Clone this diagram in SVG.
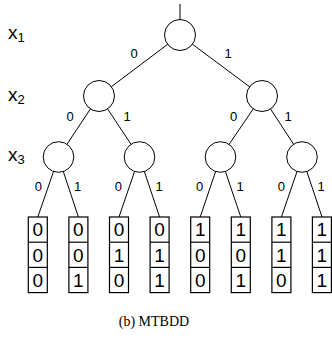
<svg xmlns="http://www.w3.org/2000/svg" width="332" height="347" viewBox="0 0 332 347">
<style>
.e{stroke:#000;stroke-width:1;fill:none}
.n{fill:#fff;stroke:#000;stroke-width:1}
.b{fill:#fff;stroke:#000;stroke-width:1.2}
.lbl{font-family:"Liberation Sans",Arial,sans-serif;font-size:13px;text-anchor:middle}
.v{font-family:"Liberation Sans",Arial,sans-serif;font-size:19px;text-anchor:middle}
.var{font-family:"Liberation Sans",Arial,sans-serif;font-size:19px}
.sub{font-size:13px}
.cap{font-family:"Liberation Serif","Times New Roman",serif;font-size:14px;text-anchor:middle}
</style>
<g id="connectors">
<line class="e" x1="180" y1="4" x2="180" y2="35"/>
<line class="e" x1="180" y1="35" x2="99" y2="96"/>
<line class="e" x1="180" y1="35" x2="262" y2="96"/>
<line class="e" x1="99" y1="96" x2="58.5" y2="157"/>
<line class="e" x1="99" y1="96" x2="139.5" y2="157"/>
<line class="e" x1="262" y1="96" x2="220.5" y2="157"/>
<line class="e" x1="262" y1="96" x2="302" y2="157"/>
<line class="e" x1="58.5" y1="157" x2="37.8" y2="217"/>
<line class="e" x1="58.5" y1="157" x2="78.4" y2="217"/>
<line class="e" x1="139.5" y1="157" x2="119" y2="217"/>
<line class="e" x1="139.5" y1="157" x2="159.6" y2="217"/>
<line class="e" x1="220.5" y1="157" x2="200.2" y2="217"/>
<line class="e" x1="220.5" y1="157" x2="240.8" y2="217"/>
<line class="e" x1="302" y1="157" x2="281.4" y2="217"/>
<line class="e" x1="302" y1="157" x2="322" y2="217"/>
<text class="lbl" x="134" y="58">0</text>
<text class="lbl" x="228" y="58">1</text>
<text class="lbl" x="70" y="120.7">0</text>
<text class="lbl" x="127" y="120.7">1</text>
<text class="lbl" x="233.5" y="120.7">0</text>
<text class="lbl" x="288" y="120.7">1</text>
<text class="lbl" x="38.3" y="191.4">0</text>
<text class="lbl" x="77.5" y="191.4">1</text>
<text class="lbl" x="118.3" y="191.4">0</text>
<text class="lbl" x="159" y="191.4">1</text>
<text class="lbl" x="199.7" y="191.4">0</text>
<text class="lbl" x="240" y="191.4">1</text>
<text class="lbl" x="281.3" y="191.4">0</text>
<text class="lbl" x="321" y="191.4">1</text>
</g>
<g id="labels">
<text class="var" x="8" y="39">x<tspan class="sub" dy="3">1</tspan></text>
<text class="var" x="8" y="101">x<tspan class="sub" dy="3">2</tspan></text>
<text class="var" x="8" y="161">x<tspan class="sub" dy="3">3</tspan></text>
</g>
<g id="n1"><circle class="n" cx="180" cy="35" r="15.5"/></g>
<g id="n2a"><circle class="n" cx="99" cy="96" r="15.5"/></g>
<g id="n2b"><circle class="n" cx="262" cy="96" r="15.5"/></g>
<g id="n3a"><circle class="n" cx="58.5" cy="157" r="15.3"/></g>
<g id="n3b"><circle class="n" cx="139.5" cy="157" r="15.3"/></g>
<g id="n3c"><circle class="n" cx="220.5" cy="157" r="15.3"/></g>
<g id="n3d"><circle class="n" cx="302" cy="157" r="15.3"/></g>
<g id="leaf000" transform="translate(28.3,217)">
<rect class="b" width="19" height="75.6"/><line class="b" x1="0" y1="25.2" x2="19" y2="25.2"/><line class="b" x1="0" y1="50.4" x2="19" y2="50.4"/>
<text class="v" x="9.5" y="19.4">0</text><text class="v" x="9.5" y="44.6">0</text><text class="v" x="9.5" y="69.8">0</text></g>
<g id="leaf001" transform="translate(68.9,217)">
<rect class="b" width="19" height="75.6"/><line class="b" x1="0" y1="25.2" x2="19" y2="25.2"/><line class="b" x1="0" y1="50.4" x2="19" y2="50.4"/>
<text class="v" x="9.5" y="19.4">0</text><text class="v" x="9.5" y="44.6">0</text><text class="v" x="9.5" y="69.8">1</text></g>
<g id="leaf010" transform="translate(109.5,217)">
<rect class="b" width="19" height="75.6"/><line class="b" x1="0" y1="25.2" x2="19" y2="25.2"/><line class="b" x1="0" y1="50.4" x2="19" y2="50.4"/>
<text class="v" x="9.5" y="19.4">0</text><text class="v" x="9.5" y="44.6">1</text><text class="v" x="9.5" y="69.8">0</text></g>
<g id="leaf011" transform="translate(150.1,217)">
<rect class="b" width="19" height="75.6"/><line class="b" x1="0" y1="25.2" x2="19" y2="25.2"/><line class="b" x1="0" y1="50.4" x2="19" y2="50.4"/>
<text class="v" x="9.5" y="19.4">0</text><text class="v" x="9.5" y="44.6">1</text><text class="v" x="9.5" y="69.8">1</text></g>
<g id="leaf100" transform="translate(190.7,217)">
<rect class="b" width="19" height="75.6"/><line class="b" x1="0" y1="25.2" x2="19" y2="25.2"/><line class="b" x1="0" y1="50.4" x2="19" y2="50.4"/>
<text class="v" x="9.5" y="19.4">1</text><text class="v" x="9.5" y="44.6">0</text><text class="v" x="9.5" y="69.8">0</text></g>
<g id="leaf101" transform="translate(231.3,217)">
<rect class="b" width="19" height="75.6"/><line class="b" x1="0" y1="25.2" x2="19" y2="25.2"/><line class="b" x1="0" y1="50.4" x2="19" y2="50.4"/>
<text class="v" x="9.5" y="19.4">1</text><text class="v" x="9.5" y="44.6">0</text><text class="v" x="9.5" y="69.8">1</text></g>
<g id="leaf110" transform="translate(271.9,217)">
<rect class="b" width="19" height="75.6"/><line class="b" x1="0" y1="25.2" x2="19" y2="25.2"/><line class="b" x1="0" y1="50.4" x2="19" y2="50.4"/>
<text class="v" x="9.5" y="19.4">1</text><text class="v" x="9.5" y="44.6">1</text><text class="v" x="9.5" y="69.8">0</text></g>
<g id="leaf111" transform="translate(312.4,217)">
<rect class="b" width="19" height="75.6"/><line class="b" x1="0" y1="25.2" x2="19" y2="25.2"/><line class="b" x1="0" y1="50.4" x2="19" y2="50.4"/>
<text class="v" x="9.5" y="19.4">1</text><text class="v" x="9.5" y="44.6">1</text><text class="v" x="9.5" y="69.8">1</text></g>
<text class="cap" x="154" y="326">(b) MTBDD</text>
</svg>
